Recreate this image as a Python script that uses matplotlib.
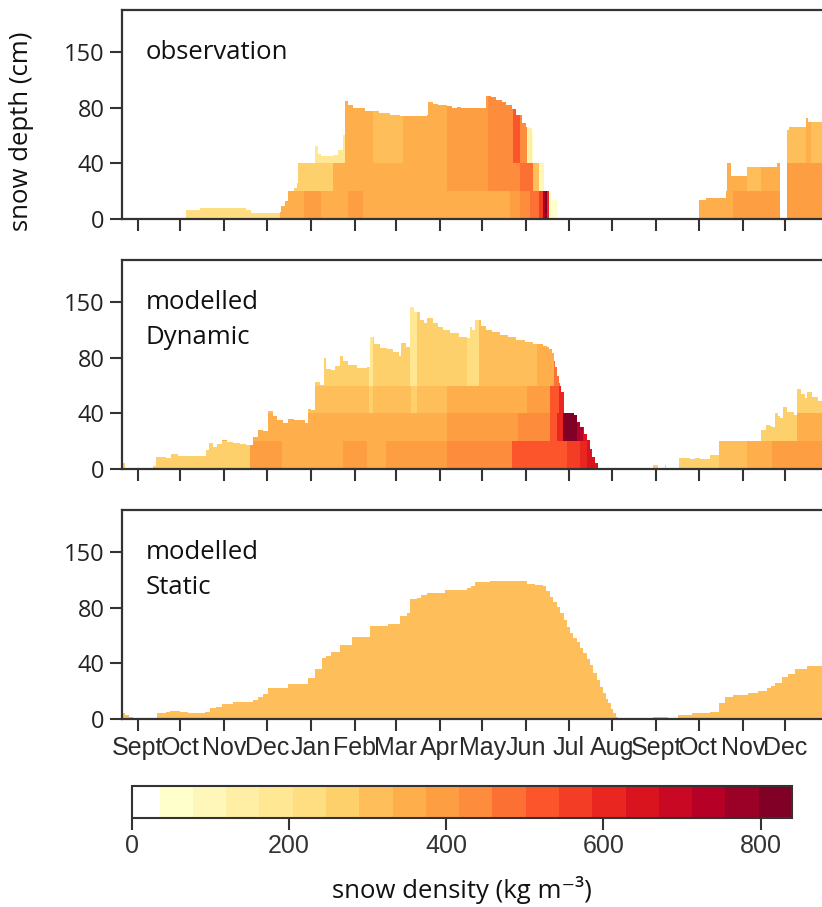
import numpy as np
import matplotlib
matplotlib.use("Agg")
import matplotlib.pyplot as plt
from matplotlib.colors import ListedColormap, BoundaryNorm
from matplotlib.ticker import NullLocator

# x = days since 1 Sept, y = snow depth in display units (tick "150" sits at 120)
month_days = [0, 30, 61, 91, 122, 153, 182, 213, 243, 274, 304, 335, 366, 396, 427, 457]
month_labels = ["Sept", "Oct", "Nov", "Dec", "Jan", "Feb", "Mar", "Apr", "May",
                "Jun", "Jul", "Aug", "Sept", "Oct", "Nov", "Dec"]
ytick_pos = [0, 40, 80, 120]
ytick_labels = ["0", "40", "80", "150"]

# --- observation ---
obs_days = [-11.3, 34, 44, 76, 80, 100, 101, 104, 106, 110, 112, 113, 125, 127, 129, 138, 141,
            145, 146, 148, 152, 160, 170, 178, 185, 204, 205, 208, 212, 218, 222, 225, 228,
            246, 249, 253, 257, 260, 264, 267, 271, 274, 276, 278, 279, 287, 292, 296,
            396, 401, 415, 416, 419, 430, 451, 453.5, 458, 460, 472, 473, 483]
obs_depth = [0, 6.0, 7.5, 6.5, 4.3, 5, 9, 13, 20, 22, 26, 40, 52.7, 47, 45.5, 46, 49.6,
             60, 85, 82, 80, 78, 76, 74.5, 74, 75, 84.5, 83, 82, 81, 79.7, 80.5, 79.7,
             88.8, 87.5, 85.7, 84, 82, 79, 75, 69, 66, 65.3, 62.8, 40, 20, 13.5, 0,
             13.5, 14.7, 20, 40, 31, 37.6, 40, 0, 64, 66.4, 72.5, 70, 70]
obs_layers = [0, 20, 40, 150]
obs_l1_edges = [-12, 100, 117, 129, 148, 159, 263, 270, 277, 283, 286, 287.5, 288.5, 290, 297, 395, 420, 484]
obs_l1_dens = [240, 350, 390, 350, 390, 350, 385, 420, 480, 560, 740, 820, 600, 70, np.nan, 350, 390]
obs_l2_edges = [-12, 138, 218, 247, 270, 279, 283, 289, 395, 430, 440, 453, 484]
obs_l2_dens = [260, 350, 385, 430, 480, 300, 80, np.nan, 350, 300, 350, 390]
obs_l3_edges = [-12, 146, 166, 187, 218, 247, 265, 270, 275, 278, 395, 472, 475, 484]
obs_l3_dens = [180, 350, 300, 350, 380, 430, 520, 430, 150, 60, 310, 350, 310]

# --- modelled Dynamic ---
dyn_days = [-11.3, -11, -9.5, 10.8, 13, 20, 22.6, 23.5, 28, 34, 48, 50, 53, 56, 59, 63, 67, 72,
            76.6, 81, 85, 88, 92, 95, 98, 102.6, 106, 110, 118, 120, 122, 125, 128.5, 131, 133,
            136, 139, 142.6, 145, 148.6, 155, 161.5, 164, 167, 171, 176, 180, 184, 186, 189.6,
            192, 195, 199, 202, 204, 208, 212, 215.6, 220, 227, 232, 234.5, 236, 238, 242, 246,
            250, 255.6, 261, 267, 273, 279, 286, 288.6, 290, 292, 293.5, 294.5, 296, 297, 299,
            300.5, 302, 303, 305, 307.7, 310, 312.4, 315, 317, 319, 320.6, 323, 325,
            364, 367, 372, 373, 382, 390, 393, 397, 404, 410, 412, 414.6, 417, 421.6, 425, 430,
            431, 436, 440, 443.5, 446, 448, 450, 452, 453.5, 455.5, 458, 463, 465, 468, 471,
            472.6, 476, 480, 483]
dyn_depth = [0, 4.3, 0, 2, 8.7, 8, 7.6, 10.6, 9.5, 9.1, 13.5, 18.3, 15.9, 18, 21, 19.5, 18.8, 17.8,
             17, 23, 27.8, 27, 41.7, 38, 35, 32.8, 36, 35, 32.8, 43, 42, 62.8, 60.4, 79.7, 72,
             71, 74, 81.4, 78, 75, 72.5, 73.7, 94.9, 90, 87, 86, 84, 81.4, 90.6, 88,
             116.5, 113, 107.4, 105, 108.6, 105, 102, 100, 98, 94.9, 94, 102, 100, 107.4, 103, 100,
             98.5, 96.5, 95, 93, 91.5, 89.8, 88.5, 88, 86, 83.3, 78, 73.7, 67, 61.6, 55,
             49.6, 45, 41.2, 40, 38.7, 34, 30.3, 25, 20.7, 14, 8.7, 4, 0,
             2.7, 0, 3, 0, 7.5, 6.7, 7.5, 6.7, 9.6, 23.6, 25, 27.5, 25.6, 27, 25, 23.1,
             26.7, 26.7, 27.8, 31.5, 31, 30, 40, 38, 36.3, 44.3, 41, 38.7, 57.3, 54, 50.8,
             55, 52, 49, 48.4]
dyn_layers = [0, 20, 40, 60, 150]
dyn_l1_edges = [-12, 79, 102, 145, 162, 175, 193, 199, 218, 264, 303, 312, 317, 326, 364, 410, 430, 448, 484]
dyn_l1_dens = [250, 390, 350, 390, 360, 410, 390, 410, 440, 520, 560, 610, 660, np.nan, 250, 310, 350, 390]
dyn_l2_edges = [-12, 125, 218, 248, 268, 291, 296, 300, 310, 314, 320, 440, 465, 484]
dyn_l2_dens = [340, 350, 390, 400, 440, 520, 600, 820, 730, 640, np.nan, 260, 350]
dyn_l3_edges = [-12, 163, 166, 193, 197, 218, 256, 275, 291, 297, 301, 440, 484]
dyn_l3_dens = [310, 250, 310, 250, 310, 350, 360, 400, 520, 600, np.nan, 250]
dyn_l4_edges = [-12, 163, 166, 192, 197, 215, 232, 241, 265, 282, 294, 298, 440, 484]
dyn_l4_dens = [250, 180, 250, 170, 250, 275, 210, 310, 330, 350, 480, np.nan, 250]

# --- modelled Static ---
sta_days = [-11.3, -9, -6, -3.5, 10.8, 13.2, 20, 22.6, 29.7, 35.5, 47.3, 50.8, 55, 59, 67.3,
            81.4, 85, 88.5, 92, 106, 120, 125, 129.7, 133, 136, 142.6, 151, 163.8, 176.8, 185,
            189.8, 192, 197, 200, 203.9, 216.8, 232, 235, 238, 248.6, 274.5, 280, 286, 288,
            291, 293, 295.8, 298, 300.5, 303, 305, 307.5, 309.8, 312, 314.5, 317, 319, 321.5,
            324, 326, 328.6, 330.5, 332, 334, 335.7, 337.5, 339, 364, 374, 381.6, 391, 404,
            410, 414.6, 420.5, 431, 438, 444, 447, 450, 454.7, 459, 464, 472.6, 483]
sta_depth = [4.3, 3, 1.5, 0, 0, 3.9, 4.5, 5.8, 5.1, 3.9, 5.1, 7.5, 8.5, 10.6, 12.3,
             13.5, 15.9, 17.6, 22, 24.8, 29.1, 35.9, 44, 45.3, 48.4, 53.2, 59.2, 67.2, 68.4, 74.1,
             76, 86.2, 87, 89, 91, 92.9, 94.1, 96, 98.9, 99.3, 97.3, 96.5, 95.8, 92,
             88, 84, 80.9, 76, 71.3, 66, 61.6, 58.5, 55.6, 51, 47.2, 43, 38.8, 33,
             27.9, 23, 18.3, 14.5, 11.1, 7, 3.9, 1.5, 0, 1, 0, 2.7, 3.9, 5.1,
             11.6, 15.4, 17, 18.3, 20.2, 21.9, 23.5, 26, 29.9, 32, 35.9, 38.3, 38.3]
sta_layers = [0, 150]
sta_l1_edges = [-12, 484]
sta_l1_dens = [310]

# colour scale
bounds = [0] + list(np.linspace(35, 840, 20))
colors = ["white"] + [plt.cm.YlOrRd(v) for v in np.linspace(0, 1, 19)]
cmap = ListedColormap(colors)
norm = BoundaryNorm(bounds, cmap.N)

dark = "#333333"
panels = [
    ("observation", obs_days, obs_depth, obs_layers,
     [(obs_l1_edges, obs_l1_dens), (obs_l2_edges, obs_l2_dens), (obs_l3_edges, obs_l3_dens)]),
    ("modelled\nDynamic", dyn_days, dyn_depth, dyn_layers,
     [(dyn_l1_edges, dyn_l1_dens), (dyn_l2_edges, dyn_l2_dens),
      (dyn_l3_edges, dyn_l3_dens), (dyn_l4_edges, dyn_l4_dens)]),
    ("modelled\nStatic", sta_days, sta_depth, sta_layers, [(sta_l1_edges, sta_l1_dens)]),
]

fig = plt.figure(figsize=(8.22, 9.07), dpi=100)
bottoms = [0.7589, 0.4832, 0.2076]

for i, (name, days, depth, layers, segs) in enumerate(panels):
    ax = fig.add_axes([0.1484, bottoms[i], 0.8516, 0.2301])
    # outline of the snowpack, used to clip the density layers
    poly = ax.fill_between(days, depth, step="post", facecolor="none", edgecolor="none")
    clip = poly.get_paths()[0]
    for k, (edges, dens) in enumerate(segs):
        qm = ax.pcolormesh(edges, [layers[k], layers[k + 1]],
                           np.ma.masked_invalid([dens]), cmap=cmap, norm=norm)
        qm.set_clip_path(clip, ax.transData)

    ax.set_xlim(-11.3, 483)
    ax.set_ylim(0, 150.5)
    ax.set_yticks(ytick_pos, ytick_labels)
    ax.set_xticks(month_days)
    if i == 2:
        ax.set_xticklabels(month_labels)
    else:
        ax.set_xticklabels([])
    ax.tick_params(direction="out", length=8.6, width=1.5, color=dark, pad=4)
    for lab in ax.get_xticklabels():
        lab.set_fontfamily("Liberation Sans")
        lab.set_fontsize(18)
        lab.set_color("#2a2a2a")
    for lab in ax.get_yticklabels():
        lab.set_fontfamily("Open Sans")
        lab.set_fontsize(17)
        lab.set_color("#222222")
    for s in ["left", "top", "bottom"]:
        ax.spines[s].set_linewidth(1.6)
        ax.spines[s].set_color(dark)
    ax.spines["right"].set_visible(False)
    ax.text(0.034, 0.855, name, transform=ax.transAxes, va="top", ha="left",
            fontsize=18.5, family="Open Sans", color="#111111", linespacing=1.5)

fig.text(22 / 822, 1 - 131 / 907, "snow depth (cm)", rotation=90, va="center", ha="center",
         fontsize=18.5, family="Open Sans", color="#111111")

# colorbar
cax = fig.add_axes([0.1606, 0.0981, 0.8029, 0.0353])
sm = plt.cm.ScalarMappable(cmap=cmap, norm=norm)
cb = fig.colorbar(sm, cax=cax, orientation="horizontal", spacing="proportional",
                  ticks=[0, 200, 400, 600, 800])
cb.outline.set_edgecolor(dark)
cb.outline.set_linewidth(1.5)
cax.xaxis.set_minor_locator(NullLocator())
cax.tick_params(direction="out", length=8.6, width=1.5, color=dark, pad=3)
for lab in cax.get_xticklabels():
    lab.set_fontfamily(["Liberation Sans Narrow", "Liberation Sans"])
    lab.set_fontsize(18)
    lab.set_color("#333333")
fig.text(462 / 822, 1 - 898 / 907, "snow density (kg m⁻³)", ha="center", va="baseline",
         fontsize=18.5, family=["Open Sans", "DejaVu Sans"], color="#111111")

fig.savefig("out.png", dpi=100)
